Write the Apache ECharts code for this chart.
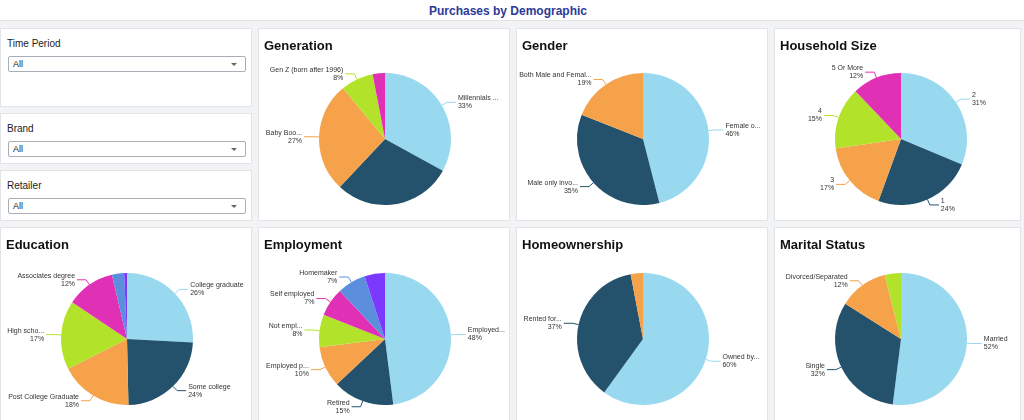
<!DOCTYPE html>
<html lang="en">
<head>
    <meta charset="UTF-8">
    <title>Purchases by Demographic</title>
    <script src="https://cdn.jsdelivr.net/npm/echarts/dist/echarts.min.js"></script>
</head>
<style>
    body{
        margin: 0;
        padding: 0;
        width: 1024px;
        height: 420px;
        overflow: hidden;
        background-color: #f2f3f5;
        font-family: "Liberation Sans", Arial, sans-serif;
        position: relative;
    }
    .top{
        position: absolute;
        left: 0; top: 0;
        width: 1024px; height: 21px;
        background: #fff;
        border-bottom: 1px solid #e2e3e7;
        text-align: center;
        font-size: 12px;
        font-weight: bold;
        line-height: 22px;
        color: #2b3a98;
        padding-right: 8px;
        box-sizing: border-box;
    }
    .panel{
        position: absolute;
        background: #fff;
        border: 1px solid #e3e4e8;
        box-sizing: border-box;
    }
    .filter-label{
        position: absolute;
        left: 6px; top: 8px;
        font-size: 10px;
        line-height: 13px;
        color: #222;
    }
    .select{
        position: absolute;
        left: 7px; top: 27px;
        width: 238px; height: 16px;
        border: 1px solid #a9aeb6;
        border-radius: 2px;
        box-sizing: border-box;
        font-size: 9px;
        line-height: 14px;
        padding-left: 4px;
        color: #16191f;
    }
    .select:after{
        content: "";
        position: absolute;
        right: 8px; top: 6px;
        border-left: 3px solid transparent;
        border-right: 3px solid transparent;
        border-top: 3px solid #666;
    }
    .chart{ width: 100%; height: 100%; }
</style>
<body>
    <div class="top">Purchases by Demographic</div>

    <!-- filters -->
    <div class="panel" style="left:0;top:28px;width:252px;height:79px;">
        <div class="filter-label">Time Period</div>
        <div class="select">All</div>
    </div>
    <div class="panel" style="left:0;top:113px;width:252px;height:51px;">
        <div class="filter-label">Brand</div>
        <div class="select">All</div>
    </div>
    <div class="panel" style="left:0;top:170px;width:252px;height:51px;">
        <div class="filter-label">Retailer</div>
        <div class="select">All</div>
    </div>

    <!-- row 1 -->
    <div class="panel" style="left:258px;top:28px;width:252px;height:193px;"><div class="chart" id="generation"></div></div>
    <div class="panel" style="left:516px;top:28px;width:252px;height:193px;"><div class="chart" id="gender"></div></div>
    <div class="panel" style="left:774px;top:28px;width:247px;height:193px;"><div class="chart" id="household"></div></div>
    <!-- row 2 -->
    <div class="panel" style="left:0;top:227px;width:252px;height:200px;"><div class="chart" id="education"></div></div>
    <div class="panel" style="left:258px;top:227px;width:252px;height:200px;"><div class="chart" id="employment"></div></div>
    <div class="panel" style="left:516px;top:227px;width:252px;height:200px;"><div class="chart" id="homeownership"></div></div>
    <div class="panel" style="left:774px;top:227px;width:247px;height:200px;"><div class="chart" id="marital"></div></div>
</body>
<script>
  // colours of the slices, in order
  var colors = ['#98d9ef', '#24526c', '#f5a24b', '#b3e22a', '#e030b5', '#5b8fde', '#7b38ff'];

  // data per chart (values in %)
  var genNames = ['Millennials ...', 'Gen X', 'Baby Boo...', 'Gen Z (born after 1996)', 'Silent Generation'];
  var genValues = [33, 29, 27, 8, 3];
  var genHidden = ['Gen X', 'Silent Generation'];

  var genderNames = ['Female o...', 'Male only invo...', 'Both Male and Femal...'];
  var genderValues = [46, 35, 19];

  var houseNames = ['2', '1', '3', '4', '5 Or More'];
  var houseValues = [31, 24, 17, 15, 12];

  var eduNames = ['College graduate', 'Some college', 'Post College Graduate', 'High scho...', 'Associates degree', 'Less than high school', 'Other'];
  var eduValues = [26, 24, 18, 17, 12, 3, 0.7];
  var eduHidden = ['Less than high school', 'Other'];

  var empNames = ['Employed...', 'Retired', 'Employed p...', 'Not empl...', 'Self employed', 'Homemaker', 'Student'];
  var empValues = [48, 15, 10, 8, 7, 7, 5];
  var empHidden = ['Student'];

  var homeNames = ['Owned by...', 'Rented for...', 'Other'];
  var homeValues = [60, 37, 3];
  var homeHidden = ['Other'];

  var maritalNames = ['Married', 'Single', 'Divorced/Separated', 'Widowed'];
  var maritalValues = [52, 32, 12, 4];
  var maritalHidden = ['Widowed'];

  var font = '"Liberation Sans", Arial, sans-serif';

  function drawPie(id, title, names, values, hidden, cy) {
    hidden = hidden || [];
    var chart = echarts.init(document.getElementById(id));
    chart.setOption({
      color: colors,
      animation: false,
      title: {
        text: title,
        left: 0,
        top: 6,
        textStyle: { fontFamily: font, fontSize: 13, fontWeight: 'bold', color: '#111' }
      },
      series: [{
        type: 'pie',
        center: [126, cy],
        radius: 66,
        startAngle: 90,
        label: {
          formatter: '{b}\n{c}%',
          fontFamily: font,
          fontSize: 7,
          lineHeight: 8,
          color: '#333',
          distanceToLabelLine: 2
        },
        labelLine: { length: 6, length2: 9, lineStyle: { width: 1 } },
        emphasis: { disabled: true },
        data: names.map(function (n, i) {
          var show = hidden.indexOf(n) < 0;
          return { name: n, value: values[i], label: { show: show }, labelLine: { show: show } };
        })
      }]
    });
  }

  drawPie('generation', 'Generation', genNames, genValues, genHidden, 110);
  drawPie('gender', 'Gender', genderNames, genderValues, [], 110);
  drawPie('household', 'Household Size', houseNames, houseValues, [], 110);
  drawPie('education', 'Education', eduNames, eduValues, eduHidden, 111);
  drawPie('employment', 'Employment', empNames, empValues, empHidden, 111);
  drawPie('homeownership', 'Homeownership', homeNames, homeValues, homeHidden, 111);
  drawPie('marital', 'Marital Status', maritalNames, maritalValues, maritalHidden, 111);
</script>
</html>
